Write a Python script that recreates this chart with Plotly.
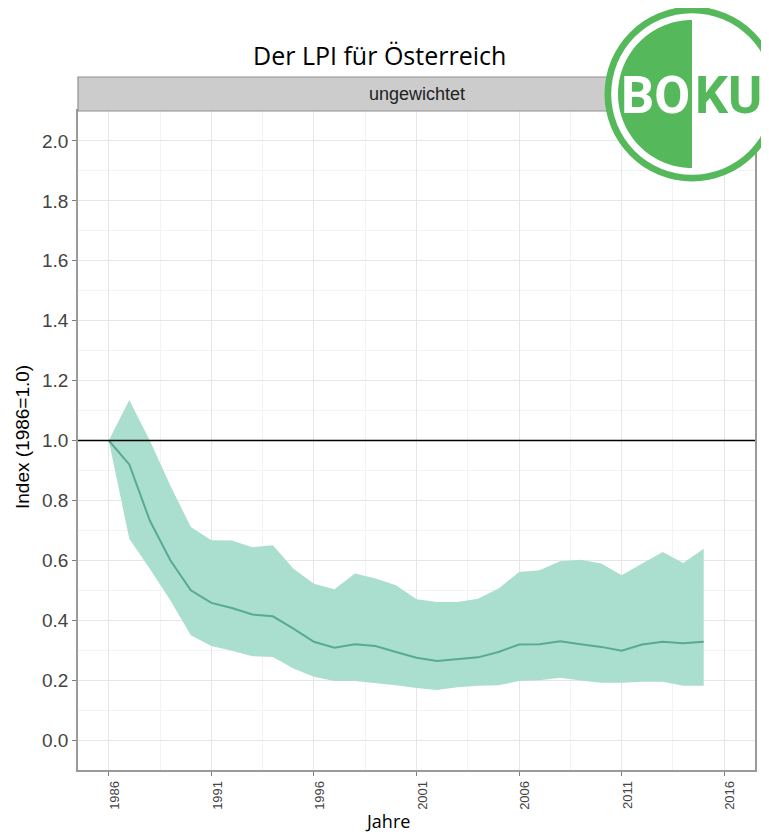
import plotly.graph_objects as go
import numpy as np

# ---- data ----
years = list(range(1986, 2016))
lpi = [1.0, 0.92, 0.733, 0.60, 0.50, 0.458, 0.441, 0.419, 0.413, 0.372,
       0.328, 0.308, 0.32, 0.314, 0.294, 0.275, 0.264, 0.27, 0.276, 0.294,
       0.319, 0.32, 0.33, 0.32, 0.311, 0.298, 0.319, 0.328, 0.323, 0.328]
upper = [1.0, 1.135, 1.0, 0.85, 0.711, 0.667, 0.666, 0.644, 0.65, 0.572,
         0.522, 0.503, 0.556, 0.539, 0.517, 0.47, 0.461, 0.461, 0.472, 0.506,
         0.561, 0.567, 0.597, 0.602, 0.589, 0.55, 0.589, 0.628, 0.591, 0.639]
lower = [1.0, 0.672, 0.572, 0.467, 0.35, 0.314, 0.298, 0.28, 0.277, 0.239,
         0.211, 0.197, 0.197, 0.191, 0.183, 0.174, 0.167, 0.176, 0.181, 0.183,
         0.197, 0.2, 0.208, 0.199, 0.191, 0.191, 0.195, 0.195, 0.181, 0.181]
x_ticks = [1986, 1991, 1996, 2001, 2006, 2011, 2016]
y_ticks = [0.0, 0.2, 0.4, 0.6, 0.8, 1.0, 1.2, 1.4, 1.6, 1.8, 2.0]

title_text = "Der LPI für Österreich"
strip_text = "ungewichtet"
x_title = "Jahre"
y_title = "Index (1986=1.0)"

# ---- layout geometry ----
# the page body has an 8px margin, so the figure starts at page (8, 8)
OFF = 8
W, H = 769 - OFF, 832 - OFF
P_LEFT, P_RIGHT, P_TOP, P_BOTTOM = 78, 755, 111, 770   # panel, page pixels
L, R = P_LEFT - OFF, W - (P_RIGHT - OFF)
T, B = P_TOP - OFF, H - (P_BOTTOM - OFF)
PW, PH = P_RIGHT - P_LEFT, P_BOTTOM - P_TOP


def px(x):
    return (x - P_LEFT) / PW


def py(y):
    return (P_BOTTOM - y) / PH


band_fill = "rgba(170,222,207,1)"
line_col = "rgb(88,170,148)"
green = "#55b85b"

fig = go.Figure()
fig.add_trace(go.Scatter(x=years, y=lower, mode="lines", line=dict(width=0),
                         hoverinfo="skip", showlegend=False))
fig.add_trace(go.Scatter(x=years, y=upper, mode="lines", line=dict(width=0),
                         fill="tonexty", fillcolor=band_fill,
                         hoverinfo="skip", showlegend=False))
fig.add_trace(go.Scatter(x=years, y=lpi, mode="lines",
                         line=dict(color=line_col, width=2), showlegend=False))

axis_common = dict(showgrid=True, gridcolor="#e6e6e6", gridwidth=1,
                   showline=True, linecolor="#9a9a9a", linewidth=1.5, mirror=True,
                   ticks="outside", ticklen=4, tickcolor="#7f7f7f", zeroline=False)

fig.update_xaxes(range=[1984.5, 2017.5], tickvals=x_ticks,
                 ticktext=[str(v) for v in x_ticks], tickangle=-90,
                 ticklabelshift=6,
                 tickfont=dict(family="Liberation Sans, Arial", size=13, color="#444"),
                 minor=dict(showgrid=True, gridcolor="#f3f3f3", dtick=2.5, tick0=1986),
                 **axis_common)
fig.update_yaxes(range=[-0.1, 2.1], tickvals=y_ticks,
                 ticktext=[f"{v:.1f}" for v in y_ticks],
                 tickfont=dict(family="Liberation Sans, Arial", size=19, color="#444"),
                 minor=dict(showgrid=True, gridcolor="#f3f3f3", dtick=0.1, tick0=0),
                 **axis_common)

shapes = []
# horizontal reference line at 1.0
shapes.append(dict(type="line", xref="paper", yref="y", x0=0, x1=1, y0=1, y1=1,
                   line=dict(color="black", width=1.3), layer="above"))
# facet strip
shapes.append(dict(type="rect", xref="paper", yref="paper", x0=0, x1=1,
                   y0=1, y1=py(77), fillcolor="#cccccc",
                   line=dict(color="#8f8f8f", width=1.2), layer="above"))

# BOKU logo
cx, cy = 692, 94
for r, col in [(87.5, green), (80.8, "white")]:
    shapes.append(dict(type="circle", xref="paper", yref="paper",
                       x0=px(cx - r), x1=px(cx + r), y0=py(cy + r), y1=py(cy - r),
                       fillcolor=col, line=dict(width=0), layer="above"))
ri = 74
th = np.linspace(np.pi / 2, 3 * np.pi / 2, 80)
pts = [(px(cx + ri * np.cos(t)), py(cy - ri * np.sin(t))) for t in th]
path = "M " + " L ".join(f"{a:.5f},{b:.5f}" for a, b in pts) + " Z"
shapes.append(dict(type="path", xref="paper", yref="paper", path=path,
                   fillcolor=green, line=dict(width=0), layer="above"))

logo_font = "Roboto"
annotations = [
    dict(text=title_text, xref="paper", yref="paper", x=px(379), y=py(55),
         xanchor="center", yanchor="middle", showarrow=False,
         font=dict(family="Open Sans", size=25, color="black")),
    dict(text=strip_text, xref="paper", yref="paper", x=0.5, y=py(94),
         xanchor="center", yanchor="middle", showarrow=False,
         font=dict(family="Liberation Sans, Arial", size=18, color="#222")),
    dict(text=x_title, xref="paper", yref="paper", x=px(387), y=py(821),
         xanchor="center", yanchor="middle", showarrow=False,
         font=dict(family="Open Sans", size=18, color="black")),
    dict(text=y_title, xref="paper", yref="paper", x=px(22), y=py(437),
         xanchor="center", yanchor="middle", showarrow=False, textangle=-90,
         font=dict(family="Liberation Sans, Arial", size=19, color="black")),
    dict(text="<b>BO</b>", xref="paper", yref="paper", x=px(691), y=py(95),
         xanchor="right", yanchor="middle", showarrow=False, borderpad=0,
         font=dict(family=logo_font, size=52, color="white")),
    dict(text="<b>KU</b>", xref="paper", yref="paper", x=px(694), y=py(95),
         xanchor="left", yanchor="middle", showarrow=False, borderpad=0,
         font=dict(family=logo_font, size=52, color=green)),
]

fig.update_layout(width=W, height=H, margin=dict(l=L, r=R, t=T, b=B),
                  paper_bgcolor="white", plot_bgcolor="white",
                  shapes=shapes, annotations=annotations, showlegend=False)

fig.write_html("out.html")
